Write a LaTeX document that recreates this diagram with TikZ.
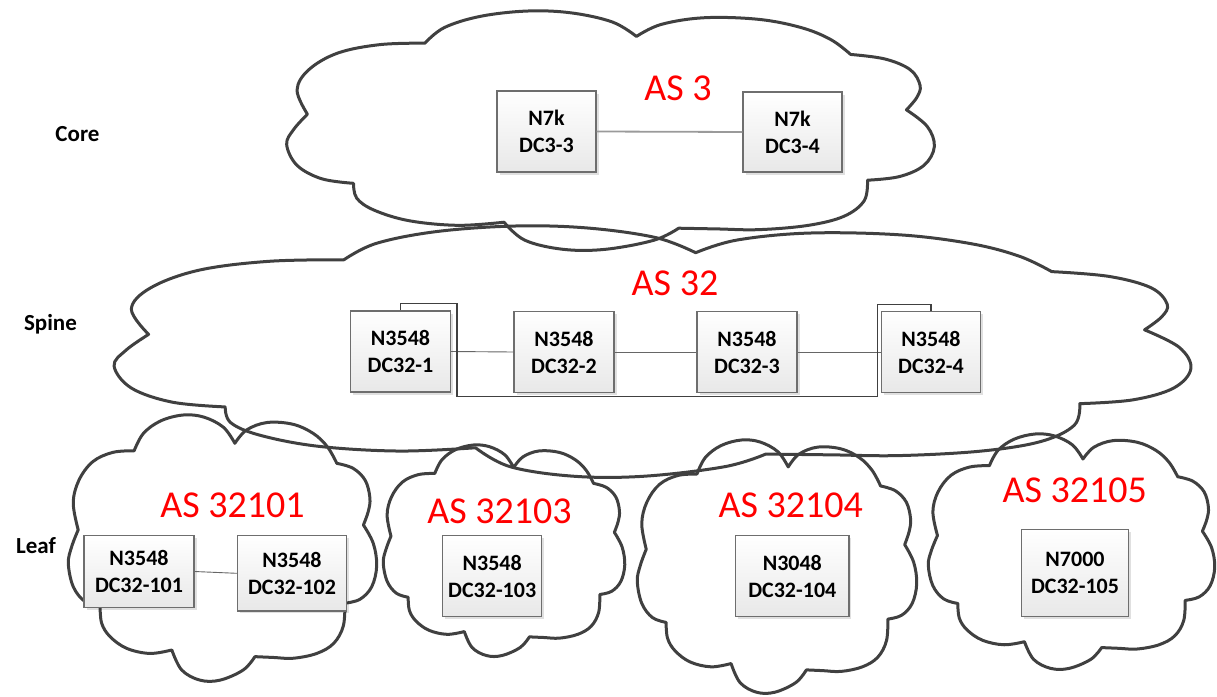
\documentclass[tikz,border=0pt]{standalone}
\usepackage{fontspec}
\setmainfont{Carlito}
\usetikzlibrary{shadows,calc}
\definecolor{cloudgray}{HTML}{404040}
\definecolor{boxgray}{HTML}{6E6E6E}
\definecolor{boxbot}{HTML}{E8E8E8}
\definecolor{linkgray}{HTML}{9A9A9A}
\definecolor{asred}{HTML}{FF0000}
\newcommand{\cloudat}[4]{%
  \draw[cloudstyle,shift={(#1,#2)},x={(#3pt,0pt)},y={(0pt,-#4pt)}]
    plot[smooth,tension=.6] coordinates {(0.033,0.430) (0.017,0.330) (0.035,0.245) (0.080,0.175) (0.145,0.140) (0.214,0.134)}
    -- plot[smooth,tension=.6] coordinates {(0.214,0.134) (0.244,0.069) (0.300,0.022) (0.373,0.000) (0.440,0.008) (0.503,0.046) (0.540,0.106)}
    -- plot[smooth,tension=.6] coordinates {(0.540,0.106) (0.578,0.056) (0.645,0.028) (0.729,0.035) (0.795,0.070) (0.840,0.120) (0.870,0.181)}
    -- plot[smooth,tension=.6] coordinates {(0.870,0.181) (0.923,0.200) (0.962,0.245) (0.977,0.310) (0.972,0.360) (0.956,0.412)}
    -- plot[smooth,tension=.6] coordinates {(0.956,0.412) (0.988,0.481) (0.999,0.565) (0.983,0.643) (0.945,0.690) (0.896,0.705)}
    -- plot[smooth,tension=.6] coordinates {(0.896,0.705) (0.891,0.790) (0.860,0.855) (0.805,0.893) (0.729,0.911) (0.664,0.908) (0.605,0.905)}
    -- plot[smooth,tension=.6] coordinates {(0.605,0.905) (0.567,0.955) (0.492,0.993) (0.427,0.993) (0.368,0.955) (0.336,0.880)}
    -- plot[smooth,tension=.6] coordinates {(0.336,0.880) (0.265,0.893) (0.190,0.874) (0.136,0.830) (0.109,0.780) (0.104,0.718)}
    -- plot[smooth,tension=.6] coordinates {(0.104,0.718) (0.055,0.699) (0.017,0.643) (0.001,0.556) (0.012,0.493) (0.033,0.430)}
    -- cycle;}
\tikzset{
  cloudstyle/.style={draw=cloudgray,line width=3pt,line join=round,line cap=round},
  devbox/.style={draw=boxgray,line width=1.1pt,top color=white,bottom color=boxbot,
    align=center,inner sep=0pt,font=\bfseries\fontsize{22}{27}\selectfont,
    drop shadow={shadow xshift=2.5pt,shadow yshift=-2.5pt,fill=black,opacity=0.12}},
  aslabel/.style={anchor=base,inner sep=0pt,text=asred,font=\fontsize{38}{40}\selectfont},
  tierlabel/.style={anchor=base,inner sep=0pt,font=\bfseries\fontsize{23}{26}\selectfont},
  corelink/.style={draw=linkgray,line width=1.8pt},
  thinlink/.style={draw=cloudgray!80,line width=0.9pt},
  bracket/.style={draw=cloudgray,line width=1.5pt}
}
\begin{document}
\begin{tikzpicture}[x=1pt,y=-1pt]
\useasboundingbox (0,0) rectangle (1217,696);
\cloudat{286}{11}{649}{240}
\cloudat{113}{226}{1079}{252}
\cloudat{68}{415}{309}{267}
\cloudat{383}{445}{242}{212}
\cloudat{637}{440}{280}{254}
\cloudat{928}{434}{287}{236}

\node[tierlabel] (core) at (77.5,141.7) {Core};
\node[tierlabel] (spine) at (50.5,330) {Spine};
\node[tierlabel] (leaf) at (36,553.3) {Leaf};

\node[aslabel] (as3) at (678,100.7) {AS 3};
\node[aslabel] (as32) at (675,295) {AS 32};
\node[aslabel] (as101) at (232.5,517.3) {AS 32101};
\node[aslabel] (as103) at (499.5,523.3) {AS 32103};
\node[aslabel] (as104) at (790.8,517.3) {AS 32104};
\node[aslabel] (as105) at (1074.8,502.3) {AS 32105};

\node[devbox,minimum width=99,minimum height=81] (c3) at (546.5,131.5) {N7k\\DC3-3};
\node[devbox,minimum width=99,minimum height=80] (c4) at (792.5,132) {N7k\\DC3-4};
\node[devbox,minimum width=100,minimum height=81] (s1) at (400.5,351.5) {N3548\\DC32-1};
\node[devbox,minimum width=100,minimum height=81] (s2) at (564,352) {N3548\\DC32-2};
\node[devbox,minimum width=100,minimum height=81] (s3) at (747,352) {N3548\\DC32-3};
\node[devbox,minimum width=99.5,minimum height=81] (s4) at (931,352) {N3548\\DC32-4};
\node[devbox,minimum width=110,minimum height=71.6] (l1) at (139,571.5) {N3548\\DC32-101};
\node[devbox,minimum width=109.4,minimum height=75.3] (l2) at (292,573.3) {N3548\\DC32-102};
\node[devbox,minimum width=99,minimum height=81] (l3) at (492.2,576.2) {N3548\\DC32-103};
\node[devbox,minimum width=113.3,minimum height=81] (l4) at (792.3,576.2) {N3048\\DC32-104};
\node[devbox,minimum width=106.6,minimum height=87.4] (l5) at (1075,573) {N7000\\DC32-105};

\draw[corelink] (c3.east) -- (c4.west);
\draw[thinlink] (s1.east) -- (s2.west);
\draw[thinlink] (s2.east) -- (s3.west);
\draw[thinlink] (s3.east) -- (s4.west);
\draw[thinlink] (l1.east) -- (l2.west);
\coordinate (ta) at (0,303.7);
\coordinate (tb) at (0,304.3);
\draw[bracket] (s1.north) -- (s1.north |- ta) -- (457,303.7) -- (457,396.3)
  -- (877.7,396.3) -- (877.7,304.3) -- (s4.north |- tb) -- (s4.north);
\end{tikzpicture}
\end{document}
